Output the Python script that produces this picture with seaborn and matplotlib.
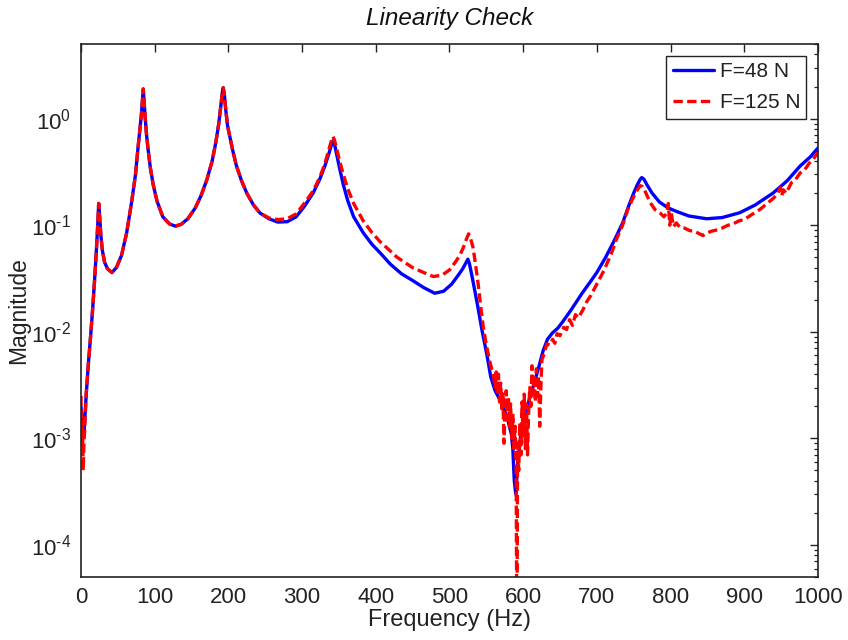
import numpy as np
import pandas as pd
import matplotlib
matplotlib.use("Agg")
import matplotlib.pyplot as plt
from matplotlib.ticker import NullLocator
import seaborn as sns

series_labels = ["F=48 N", "F=125 N"]

freq_48 = [0, 2, 4, 7, 10, 13, 16, 19, 21, 23, 24, 25, 27, 29, 32, 36, 42, 48, 55, 62, 69, 74, 77, 80, 82,
           83.5, 84.5, 85.5, 87, 89, 91, 94, 98, 103, 111, 120, 128, 136, 145, 155, 163, 171, 178, 183, 187,
           190, 192, 193, 194.5, 196.5, 199, 202, 206, 211, 218, 225, 234, 243, 255, 267, 280, 292, 303, 315,
           324, 331, 336, 340, 342, 344, 347, 351, 356, 362, 370, 383, 395, 406, 420, 435, 451, 465, 480, 492,
           503, 512, 518, 522, 525, 527, 530, 534, 538, 544, 551, 556, 562, 570, 578, 584, 586, 588, 590, 593,
           597, 603, 609, 615, 621, 627, 633, 640, 647, 654, 665, 680, 692, 700, 712, 725, 735, 743, 750, 755,
           759, 761, 764, 768, 775, 785, 797, 809, 825, 849, 870, 894, 915, 939, 958, 976, 990, 1000]
mag_48 = [2.0e-3, 1.3e-3, 1.1e-3, 2.5e-3, 5e-3, 9e-3, 0.017, 0.035, 0.06, 0.11, 0.16, 0.13, 0.08, 0.058,
          0.045, 0.039, 0.036, 0.04, 0.052, 0.085, 0.17, 0.3, 0.5, 0.8, 1.1,
          1.5, 1.9, 1.5, 1.05, 0.7, 0.52, 0.35, 0.24, 0.17, 0.12, 0.103, 0.098, 0.102, 0.115, 0.145, 0.19,
          0.27, 0.4, 0.6, 0.9,
          1.35, 1.8, 1.95, 1.7, 1.2, 0.85, 0.68, 0.5, 0.36, 0.26, 0.2, 0.155, 0.13, 0.115, 0.107, 0.108,
          0.12, 0.15, 0.2,
          0.27, 0.36, 0.46, 0.57, 0.62, 0.58, 0.46, 0.34, 0.24, 0.17, 0.12, 0.085, 0.066, 0.055, 0.043,
          0.035, 0.03, 0.026, 0.023, 0.024,
          0.028, 0.034, 0.039, 0.044, 0.048, 0.044, 0.035, 0.025, 0.018, 0.0105, 0.006, 0.0038, 0.0028,
          0.0022, 0.0016, 0.0011, 0.0008, 0.0004, 0.0003, 0.0006,
          0.0011, 0.0017, 0.0024, 0.0033, 0.0046, 0.0066, 0.0085, 0.0098, 0.0108, 0.0125, 0.016, 0.023,
          0.03, 0.036, 0.05, 0.075, 0.105, 0.15, 0.2, 0.24,
          0.27, 0.28, 0.27, 0.24, 0.2, 0.165, 0.145, 0.134, 0.122, 0.115, 0.118, 0.131, 0.155, 0.2, 0.26,
          0.36, 0.44, 0.53]

freq_125 = [0, 1, 2, 3, 4, 5, 7, 10, 13, 16, 19, 21, 23, 24, 25, 27, 29, 32, 36, 42, 48, 55, 62, 69, 74, 77,
            80, 82, 83.5, 84.5, 85.5, 87, 89, 91, 94, 98, 103, 111, 120, 128, 136, 145, 155, 163, 171, 178,
            183, 187, 190, 192, 193, 194.5, 196.5, 199, 202, 206, 211, 218, 225, 234, 243, 255, 267, 280, 292,
            303, 315, 324, 331, 336, 340, 342, 344, 347, 351, 356, 362, 370, 383, 395, 406, 429, 450, 465, 478,
            490, 500, 508, 514, 519, 523, 526, 528, 532, 535, 539, 543, 546, 550, 555,
            560, 562, 563.5, 565, 566.5, 568, 569.5, 571, 572.5, 574, 575.5, 577, 578.5, 580, 581.5, 583,
            584.5, 586, 587.5, 589, 590.5, 591.5, 592.5, 594, 595.5, 597, 598.5, 600, 601.5, 603, 604.5, 606,
            607.5, 609, 610.5, 612, 613.5, 615, 616.5, 618, 619.5, 621, 622.5, 624, 625.5, 627, 630,
            632, 636, 640, 643, 646, 650, 655, 659, 663, 667, 671, 675,
            681, 686, 692, 700, 710, 720, 727, 735, 742, 749, 755, 759, 762, 766, 772, 779, 786, 791, 795, 797,
            799, 801, 804, 808, 813, 819, 826, 832, 838, 844, 850, 856, 862, 870, 878, 885, 893, 900, 912, 921,
            931, 940, 946, 949, 951, 953, 957, 964, 970, 976, 982, 988, 994, 1000]
mag_125 = [2.5e-3, 8e-4, 1.5e-3, 5e-4, 9e-4, 1.2e-3, 2.6e-3, 5e-3, 9e-3, 0.017, 0.035, 0.06, 0.11, 0.16,
           0.13, 0.08, 0.058, 0.045, 0.039, 0.036, 0.04, 0.052, 0.085, 0.17, 0.3, 0.5,
           0.8, 1.1, 1.5, 1.9, 1.5, 1.05, 0.7, 0.52, 0.35, 0.24, 0.17, 0.12, 0.103, 0.098, 0.102, 0.115,
           0.145, 0.19, 0.27, 0.4,
           0.6, 0.9, 1.35, 1.8, 1.95, 1.7, 1.2, 0.85, 0.68, 0.5, 0.36, 0.26, 0.2, 0.155, 0.13, 0.117, 0.113,
           0.115, 0.128,
           0.16, 0.21, 0.28, 0.38, 0.5, 0.63, 0.68, 0.63, 0.52, 0.4, 0.3, 0.22, 0.16, 0.11, 0.085, 0.07,
           0.05, 0.04, 0.036, 0.033,
           0.034, 0.038, 0.045, 0.052, 0.062, 0.074, 0.083, 0.078, 0.062, 0.045, 0.028, 0.016, 0.011, 0.0075,
           0.0052,
           0.0038, 0.0030, 0.0042, 0.0026, 0.0040, 0.0022, 0.0033, 0.0019, 0.0027, 0.0009, 0.0020, 0.0028,
           0.0015, 0.0024, 0.0013, 0.0021,
           0.0010, 0.0017, 0.0008, 0.0013, 0.0006, 0.00001, 0.0009, 0.0005, 0.0014, 0.0007, 0.0022, 0.0010,
           0.0026, 0.0008, 0.0021, 0.0007,
           0.0018, 0.0030, 0.0020, 0.0048, 0.0026, 0.0040, 0.0022, 0.0045, 0.0025, 0.0038, 0.0013, 0.0030,
           0.0055, 0.0058, 0.0068,
           0.0077, 0.0075, 0.0085, 0.0078, 0.0096, 0.0092, 0.011, 0.0105, 0.013, 0.0115, 0.0145, 0.0135,
           0.016, 0.019, 0.022, 0.028, 0.038, 0.055, 0.075, 0.1, 0.14, 0.18, 0.215, 0.235, 0.23, 0.205,
           0.165, 0.14, 0.13, 0.12, 0.13, 0.16,
           0.1, 0.13, 0.097, 0.105, 0.095, 0.094, 0.089, 0.088, 0.084, 0.08, 0.085, 0.088, 0.09, 0.094, 0.1,
           0.103, 0.11, 0.113, 0.128, 0.14,
           0.16, 0.18, 0.2, 0.225, 0.19, 0.215, 0.2, 0.25, 0.27, 0.31, 0.33, 0.38, 0.42, 0.48]

x_ticks = [0, 100, 200, 300, 400, 500, 600, 700, 800, 900, 1000]
y_ticks = [1e-4, 1e-3, 1e-2, 1e-1, 1e0]
y_tick_labels = [r"$10^{\text{-}4}$", r"$10^{\text{-}3}$", r"$10^{\text{-}2}$",
                 r"$10^{\text{-}1}$", r"$10^{0}$"]

df = pd.concat([
    pd.DataFrame({"Frequency": freq_48, "Magnitude": mag_48, "Force": series_labels[0]}),
    pd.DataFrame({"Frequency": freq_125, "Magnitude": mag_125, "Force": series_labels[1]}),
], ignore_index=True)

sns.set_style("white")
plt.rcParams["font.family"] = ["Liberation Sans", "DejaVu Sans"]
plt.rcParams["mathtext.fontset"] = "custom"
plt.rcParams["mathtext.rm"] = "Liberation Sans"
plt.rcParams["mathtext.it"] = "Liberation Sans:italic"
plt.rcParams["mathtext.bf"] = "Liberation Sans:bold"

fig = plt.figure(figsize=(8.48, 6.40), dpi=100)
ax = fig.add_axes([0.0955, 0.0984, 0.869, 0.8326])

sns.lineplot(data=df, x="Frequency", y="Magnitude", hue="Force", style="Force",
             palette={series_labels[0]: "#0000ff", series_labels[1]: "#ff0000"},
             dashes={series_labels[0]: "", series_labels[1]: (2.8, 1.3)},
             estimator=None, sort=False, linewidth=2.4, ax=ax)

ax.set_yscale("log")
ax.set_xlim(0, 1000)
ax.set_ylim(5e-5, 5)
ax.set_xticks(x_ticks)
ax.set_xticklabels([str(t) for t in x_ticks])
ax.xaxis.set_minor_locator(NullLocator())
ax.set_yticks(y_ticks)
ax.set_yticklabels(y_tick_labels)

ax.tick_params(axis="both", which="both", direction="in", top=True, right=True,
               labelsize=16, colors="#222222", labelcolor="#222222")
ax.tick_params(axis="both", which="major", length=6, width=1.0, pad=7)
ax.tick_params(axis="y", which="minor", length=3, width=0.9)
for s in ax.spines.values():
    s.set_linewidth(1.2)
    s.set_color("#222222")

ax.set_xlabel("Frequency (Hz)", fontsize=17, color="#222222", labelpad=1)
ax.set_ylabel("Magnitude", fontsize=16.5, color="#222222")
ax.yaxis.set_label_coords(-0.069, 0.5)
ax.set_title("Linearity Check", fontsize=17.5, style="italic", color="#111111", pad=14)

handles, labels = ax.get_legend_handles_labels()
leg = ax.legend(handles, labels, loc="upper right", fontsize=15, frameon=True, fancybox=False,
                edgecolor="#222222", framealpha=1, handlelength=2.0, handletextpad=0.25,
                borderpad=0.3, labelspacing=0.6, borderaxespad=0.55)
leg.get_frame().set_linewidth(1.0)
for t in leg.get_texts():
    t.set_color("#222222")

fig.savefig("out.png", dpi=100)
